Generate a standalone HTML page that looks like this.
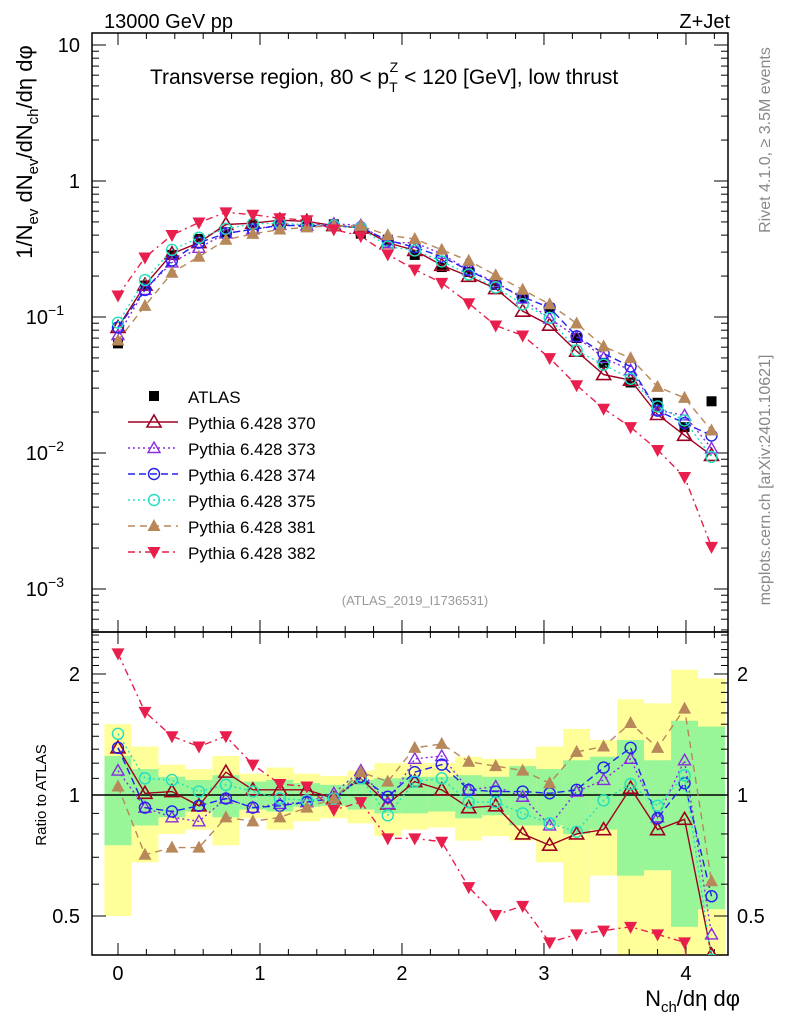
<!DOCTYPE html>
<html><head><meta charset="utf-8">
<style>
html,body{margin:0;padding:0;background:#fff;overflow:hidden;width:786px;height:1024px;}
svg{display:block;font-family:"Liberation Sans",sans-serif;}
</style></head>
<body>
<svg id="c" width="786" height="1024" viewBox="0 0 786 1024" xmlns="http://www.w3.org/2000/svg"></svg>
<script>
const xVals=[0,0.19,0.38,0.57,0.76,0.95,1.14,1.33,1.52,1.71,1.9,2.09,2.28,2.47,2.66,2.85,3.04,3.23,3.42,3.61,3.8,3.99,4.18];
const atlas=[0.064,0.17,0.286,0.375,0.42,0.475,0.50,0.49,0.48,0.41,0.37,0.286,0.233,0.214,0.172,0.138,0.116,0.070,0.046,0.033,0.0234,0.0155,0.024];
const r370=[1.31,1.01,1.02,0.94,1.14,1.03,1.03,1.03,0.98,1.10,0.95,1.08,1.03,0.93,0.94,0.80,0.75,0.80,0.82,1.04,0.82,0.87,0.40];
const r373=[1.15,0.93,0.88,0.86,0.98,0.93,0.95,0.96,1.01,1.15,0.95,1.23,1.25,1.03,1.05,0.99,0.84,1.02,1.09,1.23,0.88,1.22,0.45];
const r374=[1.31,0.93,0.91,0.94,0.98,0.93,0.94,0.96,0.98,1.11,0.99,1.14,1.19,1.03,1.02,1.02,1.01,1.03,1.17,1.31,0.875,1.07,0.56];
const r375=[1.42,1.10,1.09,1.02,1.06,1.02,0.98,0.97,0.98,1.10,0.89,1.08,1.10,0.96,0.96,0.90,0.85,0.81,0.97,1.065,0.94,1.12,0.39];
const r381=[1.05,0.71,0.74,0.74,0.88,0.86,0.88,0.93,0.98,1.14,1.08,1.31,1.34,1.21,1.18,1.15,1.07,1.28,1.32,1.51,1.31,1.64,0.61];
const r382=[2.25,1.61,1.40,1.32,1.40,1.19,1.065,1.05,0.918,0.96,0.78,0.78,0.765,0.59,0.503,0.53,0.43,0.45,0.46,0.47,0.45,0.43,0.085];
const yelUp=[1.50,1.32,1.19,1.16,1.25,1.13,1.17,1.13,1.115,1.15,1.20,1.20,1.20,1.245,1.23,1.23,1.32,1.46,1.37,1.73,1.69,2.05,1.95];
const yelDn=[0.50,0.68,0.80,0.82,0.75,0.875,0.82,0.86,0.875,0.85,0.79,0.82,0.83,0.77,0.79,0.77,0.68,0.54,0.63,0.30,0.30,0.30,0.30];
const grnUp=[1.25,1.16,1.11,1.09,1.12,1.08,1.09,1.07,1.06,1.09,1.10,1.11,1.11,1.12,1.11,1.18,1.16,1.22,1.245,1.37,1.22,1.53,1.48];
const grnDn=[0.75,0.84,0.88,0.91,0.88,0.92,0.91,0.935,0.94,0.92,0.90,0.90,0.91,0.875,0.89,0.84,0.84,0.80,0.82,0.63,0.65,0.47,0.52];
const mainTicks=[10,1,0.1,0.01,0.001];
const ratioTicks=[2,1,0.5];
const xTicks=[0,1,2,3,4];

const L=92,R=728,T=33,MB=632,B=955;
const XMIN=-0.183,XMAX=4.296;
const X=v=>L+(v-XMIN)/(XMAX-XMIN)*(R-L);
const YM=v=>181-136*Math.log10(v);
const YR=v=>795-402*Math.log10(v);
const NS="http://www.w3.org/2000/svg";
const svg=document.getElementById('c');
function el(tag,attrs,parent){const e=document.createElementNS(NS,tag);for(const k in attrs)e.setAttribute(k,attrs[k]);(parent||svg).appendChild(e);return e;}
function txt(s,attrs,parent){const e=el('text',attrs,parent);e.textContent=s;return e;}

const defs=el('defs',{});
const c1=el('clipPath',{id:'cm'},defs);el('rect',{x:L,y:T,width:R-L,height:MB-T},c1);
const c2=el('clipPath',{id:'cr'},defs);el('rect',{x:L,y:MB,width:R-L,height:B-MB},c2);

const bands=el('g',{'clip-path':'url(#cr)'});


const half=0.095;
xVals.forEach((x,i)=>{
  const x0=X(x-half),x1=X(x+half);
  const y=el('rect',{x:x0,y:YR(yelUp[i]),width:x1-x0,height:YR(yelDn[i])-YR(yelUp[i]),fill:'#ffff99'},bands);
  
  
});
xVals.forEach((x,i)=>{
  const x0=X(x-half),x1=X(x+half);
  const g=el('rect',{x:x0,y:YR(grnUp[i]),width:x1-x0,height:YR(grnDn[i])-YR(grnUp[i]),fill:'#98f598'},bands);
  
  
});
const one=el('line',{x1:L,x2:R,y1:YR(1),y2:YR(1),stroke:'#000','stroke-width':1.5});



function frame(y0,y1,name){
  const f=el('rect',{x:L,y:y0,width:R-L,height:y1-y0,fill:'none',stroke:'#000','stroke-width':1.5});
  
  
  for(let v=-0.2;v<=4.3;v+=0.2){
    const vv=Math.round(v*10)/10; if(vv<XMIN||vv>XMAX)continue;
    const maj=Math.abs(vv-Math.round(vv))<1e-6; const len=maj?12:6; const xx=X(vv);
    el('line',{x1:xx,x2:xx,y1:y0,y2:y0+len,stroke:'#000','stroke-width':1});
    el('line',{x1:xx,x2:xx,y1:y1,y2:y1-len,stroke:'#000','stroke-width':1});
  }
}
frame(T,MB,'main-plot-frame');
frame(MB,B,'ratio-plot-frame');
for(let d=-4;d<=1;d++){for(let m=1;m<=9;m++){const v=m*Math.pow(10,d);const yy=YM(v);if(yy<T||yy>MB)continue;const len=m==1?14:7;
  el('line',{x1:L,x2:L+len,y1:yy,y2:yy,stroke:'#000','stroke-width':1});
  el('line',{x1:R,x2:R-len,y1:yy,y2:yy,stroke:'#000','stroke-width':1});}}
for(let v=0.4;v<=2.5001;v+=0.1){const vv=Math.round(v*10)/10;const yy=YR(vv);if(yy<MB||yy>B)continue;const maj=(vv==0.5||vv==1||vv==2);const len=maj?14:7;
  el('line',{x1:L,x2:L+len,y1:yy,y2:yy,stroke:'#000','stroke-width':1});
  el('line',{x1:R,x2:R-len,y1:yy,y2:yy,stroke:'#000','stroke-width':1});}

const tlab={'10':'10','1':'1','0.1':'−1','0.01':'−2','0.001':'−3'};
mainTicks.forEach(v=>{
  const yy=YM(v);
  let t;
  if(v>=1){t=txt(String(v),{x:80,y:yy+7,'font-size':20,'text-anchor':'end'});}
  else{t=txt('10',{x:64,y:yy+7,'font-size':20,'text-anchor':'end'});const s=el('tspan',{dy:-9,'font-size':14},t);s.textContent=tlab[String(v)];}
  
  
});
ratioTicks.forEach(v=>{
  const yy=YR(v);
  const a=txt(String(v),{x:80,y:yy+7,'font-size':20,'text-anchor':'end'});
  
  
  const b=txt(String(v),{x:737,y:yy+7,'font-size':20});
  
  
});
xTicks.forEach(v=>{
  const t=txt(String(v),{x:X(v),y:980,'font-size':20,'text-anchor':'middle'});
  
  
});

const series=[
 {name:'370',r:r370,color:'#a00020',dash:'',mk:'tri-open'},
 {name:'373',r:r373,color:'#8a2be2',dash:'2,3',mk:'tri-open-s'},
 {name:'374',r:r374,color:'#2222ee',dash:'7,4',mk:'circ'},
 {name:'375',r:r375,color:'#22e0c0',dash:'2,3',mk:'circ'},
 {name:'381',r:r381,color:'#b8875a',dash:'7,5',mk:'tri-up'},
 {name:'382',r:r382,color:'#e81e4c',dash:'7,4,2,4',mk:'tri-dn'}
];
function marker(g,mk,x,y,color){
  let e;
  if(mk=='tri-open')e=el('path',{d:`M${x},${y-7}L${x+7},${y+5}L${x-7},${y+5}Z`,fill:'none',stroke:color,'stroke-width':1.6},g);
  else if(mk=='tri-open-s')e=el('path',{d:`M${x},${y-6}L${x+6},${y+4.5}L${x-6},${y+4.5}Z`,fill:'none',stroke:color,'stroke-width':1.4},g);
  else if(mk=='circ')e=el('circle',{cx:x,cy:y,r:5.5,fill:'none',stroke:color,'stroke-width':1.4},g);
  else if(mk=='tri-up')e=el('path',{d:`M${x},${y-7}L${x+6.5},${y+5}L${x-6.5},${y+5}Z`,fill:color},g);
  else if(mk=='tri-dn')e=el('path',{d:`M${x},${y+7}L${x+6.5},${y-5}L${x-6.5},${y-5}Z`,fill:color},g);
  else if(mk=='sq')e=el('rect',{x:x-5,y:y-5,width:10,height:10,fill:color},g);
  return e;
}
const ga=el('g',{'clip-path':'url(#cm)'});


xVals.forEach((x,i)=>{const m=marker(ga,'sq',X(x),YM(atlas[i]),'#000');
  
  });

series.forEach(s=>{
  const gm=el('g',{'clip-path':'url(#cm)'});
  
  
  const gr=el('g',{'clip-path':'url(#cr)'});
  
  
  const vals=atlas.map((a,i)=>a*s.r[i]);
  const pm=xVals.map((x,i)=>`${X(x)},${YM(vals[i])}`).join(' ');
  const pr=xVals.map((x,i)=>`${X(x)},${YR(s.r[i])}`).join(' ');
  const lm=el('polyline',{points:pm,fill:'none',stroke:s.color,'stroke-width':1.4,'stroke-dasharray':s.dash},gm);
  
  
  const lr=el('polyline',{points:pr,fill:'none',stroke:s.color,'stroke-width':1.4,'stroke-dasharray':s.dash},gr);
  
  
  xVals.forEach((x,i)=>{
    const m1=marker(gm,s.mk,X(x),YM(vals[i]),s.color);
    
    
    const m2=marker(gr,s.mk,X(x),YR(s.r[i]),s.color);
    
    
  });
});

const leg=el('g',{});


marker(leg,'sq',154,396,'#000');
const lt=txt('ATLAS',{x:188,y:403,'font-size':17},leg);


series.forEach((s,k)=>{
  const y=422+k*26;
  el('line',{x1:128,x2:178,y1:y,y2:y,stroke:s.color,'stroke-width':1.4,'stroke-dasharray':s.dash},leg);
  marker(leg,s.mk,154,y,s.color);
  const t=txt('Pythia 6.428 '+s.name,{x:188,y:y+7,'font-size':17},leg);
  
  
});

let t;
t=txt('13000 GeV pp',{x:104,y:28,'font-size':20});
t=txt('Z+Jet',{x:730,y:28,'font-size':20,'text-anchor':'end'});
t=txt('',{x:150,y:84,'font-size':21});
t.innerHTML='Transverse region, 80 &lt; p<tspan dy="8" font-size="14">T</tspan><tspan dy="-20" dx="-8" font-size="14">Z</tspan><tspan dy="12"> &lt; 120 [GeV], low thrust</tspan>';

t=txt('(ATLAS_2019_I1736531)',{x:415,y:605,'font-size':13,fill:'#999','text-anchor':'middle'});
t=txt('',{x:0,y:0,'font-size':22,transform:'translate(32,152) rotate(-90)','text-anchor':'middle'});
t.innerHTML='1/N<tspan dy="6" font-size="15">ev</tspan><tspan dy="-6"> dN</tspan><tspan dy="6" font-size="15">ev</tspan><tspan dy="-6">/dN</tspan><tspan dy="6" font-size="15">ch</tspan><tspan dy="-6">/dη dφ</tspan>';

t=txt('Ratio to ATLAS',{x:0,y:0,'font-size':15,transform:'translate(46,795) rotate(-90)','text-anchor':'middle'});
t=txt('',{x:740,y:1006,'font-size':22,'text-anchor':'end'});
t.innerHTML='N<tspan dy="6" font-size="15">ch</tspan><tspan dy="-6">/dη dφ</tspan>';

t=txt('Rivet 4.1.0, ≥ 3.5M events',{x:0,y:0,'font-size':16,fill:'#888',transform:'translate(770,140) rotate(-90)','text-anchor':'middle'});
t=txt('mcplots.cern.ch [arXiv:2401.10621]',{x:0,y:0,'font-size':16,fill:'#888',transform:'translate(770,480) rotate(-90)','text-anchor':'middle'});
</script>
</body></html>
